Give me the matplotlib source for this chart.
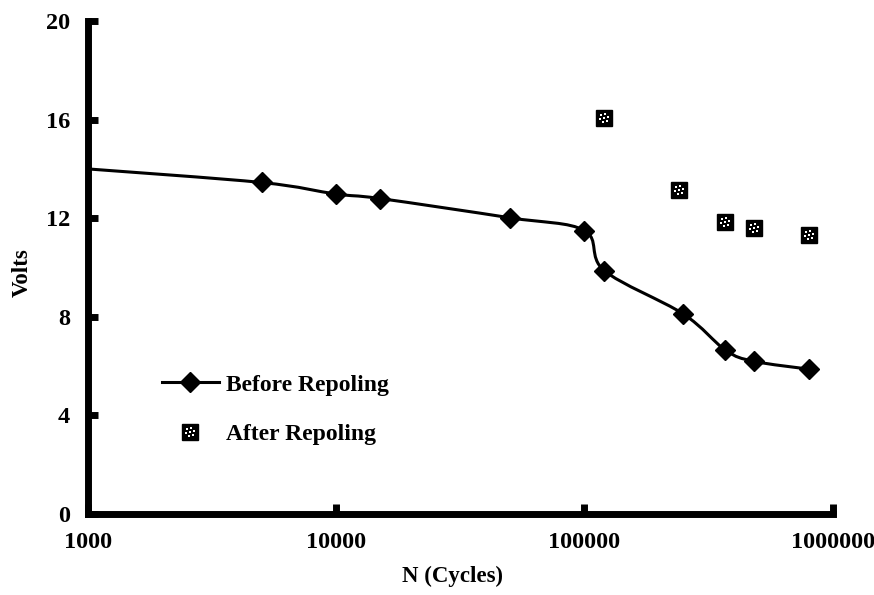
import numpy as np
import matplotlib
matplotlib.use('Agg')
import matplotlib.pyplot as plt
from matplotlib.path import Path
from matplotlib.patches import PathPatch
from matplotlib.lines import Line2D

# before repoling (first point only starts the curve, no marker there)
cycles_before = [1000, 5000, 10000, 15000, 50000, 100000, 120000, 250000, 370000, 480000, 800000]
volts_before = [14.0, 13.45, 12.98, 12.8, 12.02, 11.5, 9.88, 8.12, 6.65, 6.2, 5.88]

# after repoling
cycles_after = [120000, 240000, 370000, 480000, 800000]
volts_after = [16.05, 13.15, 11.86, 11.6, 11.3]

plt.rcParams['font.family'] = ['Liberation Serif', 'DejaVu Serif']
plt.rcParams['font.weight'] = 'bold'

fig = plt.figure(figsize=(8.74, 5.95), dpi=100)
ax = fig.add_axes([0.1007, 0.136, 0.852, 0.8287])

# smoothed line (excel style bezier), worked out in log-x space
lx = np.log10(cycles_before)
vy = np.array(volts_before)
n = len(lx)
verts = [(lx[0], vy[0])]
codes = [Path.MOVETO]
for i in range(n - 1):
    p0 = i - 1 if i > 0 else i
    p3 = i + 2 if i + 2 < n else i + 1
    c1 = (lx[i] + (lx[i + 1] - lx[p0]) / 6, vy[i] + (vy[i + 1] - vy[p0]) / 6)
    c2 = (lx[i + 1] - (lx[p3] - lx[i]) / 6, vy[i + 1] - (vy[p3] - vy[i]) / 6)
    verts += [c1, c2, (lx[i + 1], vy[i + 1])]
    codes += [Path.CURVE4] * 3
verts = [(10 ** a, b) for a, b in verts]
ax.add_patch(PathPatch(Path(verts, codes), fill=False, lw=2.2, ec='black', zorder=3))

# dotted marker pattern: a ring of small dots plus one in the middle
dot_verts = []
dot_codes = []
d = 0.07
for ang in list(np.linspace(0, 2 * np.pi, 7)[:-1]) + [None]:
    cx, cy = (0.0, 0.0) if ang is None else (0.32 * np.cos(ang + 0.3), 0.32 * np.sin(ang + 0.3))
    dot_verts += [(cx - d, cy - d), (cx + d, cy - d), (cx + d, cy + d), (cx - d, cy + d), (cx - d, cy - d)]
    dot_codes += [Path.MOVETO, Path.LINETO, Path.LINETO, Path.LINETO, Path.CLOSEPOLY]
dots = Path(dot_verts, dot_codes)

ax.plot(cycles_before[1:], volts_before[1:], 'D', color='black', ms=10, zorder=4)
ax.plot(cycles_after, volts_after, 's', color='black', ms=11, zorder=4)
ax.plot(cycles_after, volts_after, ls='none', marker=dots, color='white', mew=0, ms=7, zorder=5)

ax.set_xscale('log')
ax.set_xlim(1000, 1000000)
ax.set_ylim(0, 20)
ax.set_yticks([0, 4, 8, 12, 16, 20])
ax.set_xticks([1000, 10000, 100000, 1000000])
ax.set_xticklabels(['1000', '10000', '100000', '1000000'])
ax.minorticks_off()
ax.tick_params(direction='in', length=7, width=5, labelsize=17.5, pad=13)

for s in ['top', 'right']:
    ax.spines[s].set_visible(False)
for s in ['left', 'bottom']:
    ax.spines[s].set_linewidth(5)
    ax.spines[s].set_capstyle('projecting')

ax.set_xlabel('N (Cycles)', fontsize=16.5, fontweight='bold')
ax.xaxis.set_label_coords(0.489, -0.105)
ax.set_ylabel('Volts', fontsize=16.5, fontweight='bold')
ax.yaxis.set_label_coords(-0.074, 0.49)

h1 = Line2D([], [], color='black', lw=2.2, marker='D', ms=10)
h2 = (Line2D([], [], ls='none', marker='s', color='black', ms=11),
      Line2D([], [], ls='none', marker=dots, color='white', mew=0, ms=7))
ax.legend([h1, h2], ['Before Repoling', 'After Repoling'], frameon=False,
          loc='upper left', bbox_to_anchor=(162 / 874, (595 - 374) / 595),
          bbox_transform=fig.transFigure, borderpad=0, borderaxespad=0,
          handlelength=2.4, handletextpad=0.3, labelspacing=1.2,
          prop={'size': 17, 'weight': 'bold'})

fig.savefig('out.png', dpi=100)
